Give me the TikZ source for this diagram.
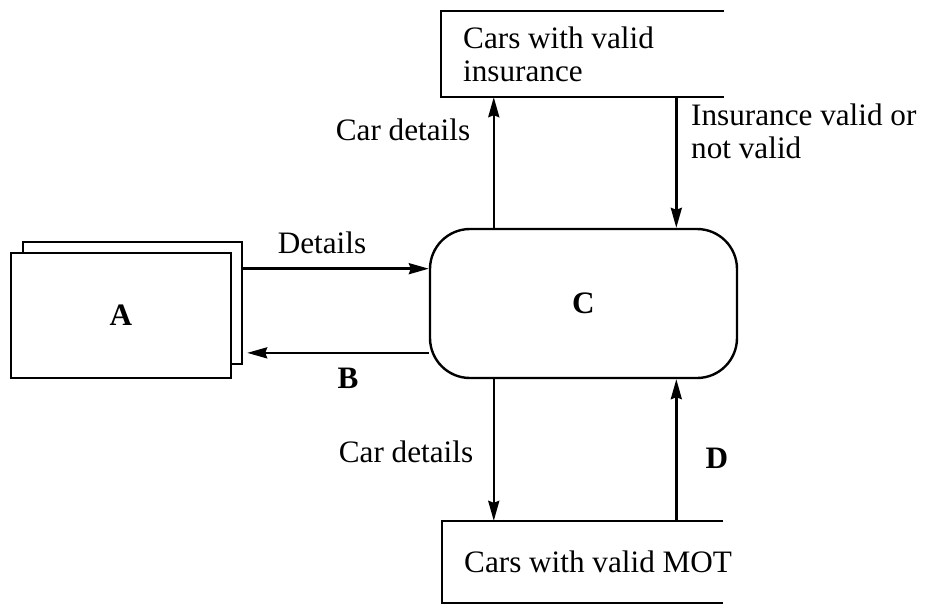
\documentclass[tikz,border=0pt]{standalone}
\usepackage{fontspec}
\setmainfont{Liberation Serif}
\usetikzlibrary{calc,arrows.meta,positioning}
\tikzset{>={Stealth[length=10pt,width=5.5pt,inset=1pt]}}

\begin{document}
\begin{tikzpicture}[x=0.5pt,y=-0.5pt,line width=1.2pt,
  font=\fontsize{15.6}{16.5}\selectfont,
  ent/.style={draw,fill=white,inner sep=0pt},
  proc/.style={draw,rounded corners=20pt,minimum width=153.5pt,minimum height=74.5pt,inner sep=0pt},
  store/.style={anchor=west,align=left,inner xsep=10.5pt,inner ysep=0pt},
  lbl/.style={inner sep=0pt},
  flow/.style={->}]
\useasboundingbox (0,0) rectangle (928,607);
% external entity (two sheets)
\node[ent,minimum width=109.5pt,minimum height=61pt] (Aback) at (132.5,303) {};
\node[ent,minimum width=110pt,minimum height=62.5pt] (A) at (121,315.5) {\textbf{A}};
% process
\node[proc] (C) at (583.5,303.5) {\textbf{C}};
% data stores, open on the right
\node[store,minimum height=42pt] (ins) at (441,54) {Cars with valid\\insurance};
\node[store,minimum height=40pt] (mot) at (442,562) {Cars with valid MOT};
\draw ([xshift=141.5pt]ins.north west) -- (ins.north west) -- (ins.south west) -- ([xshift=141.5pt]ins.south west);
\draw ([xshift=140.5pt]mot.north west) -- (mot.north west) -- (mot.south west) -- ([xshift=140.5pt]mot.south west);
% points on the process
\coordinate (cin) at ($(C.north west)!.27!(C.south west)$);
\coordinate (cout) at ($(C.north west)!.826!(C.south west)$);
\coordinate (ctl) at ($(C.north west)!.21!(C.north east)$);
\coordinate (ctr) at ($(C.north west)!.8!(C.north east)$);
\coordinate (cbl) at ($(C.south west)!.21!(C.south east)$);
\coordinate (cbr) at ($(C.south west)!.8!(C.south east)$);
% flows
\draw[flow] (cin -| Aback.east) -- (cin);
\draw[flow] (cout) -- ([xshift=2pt]cout -| Aback.east);
\draw[flow] (ctl) -- (ctl |- ins.south);
\draw[flow] (ctr |- ins.south) -- (ctr);
\draw[flow] (cbl) -- (cbl |- mot.north);
\draw[flow] (cbr |- mot.north) -- (cbr);
% labels
\node[lbl] (lblDetails) at (322,243) {Details};
\node[lbl] (lblB) at (348,378) {\textbf{B}};
\node[lbl] (lblUp) at (403,130) {Car details};
\node[lbl,anchor=west,align=left] (lblIns) at (690,131) {Insurance valid or\\not valid};
\node[lbl] (lblDown) at (406,452) {Car details};
\node[lbl] (lblD) at (717,458) {\textbf{D}};
\end{tikzpicture}
\end{document}
